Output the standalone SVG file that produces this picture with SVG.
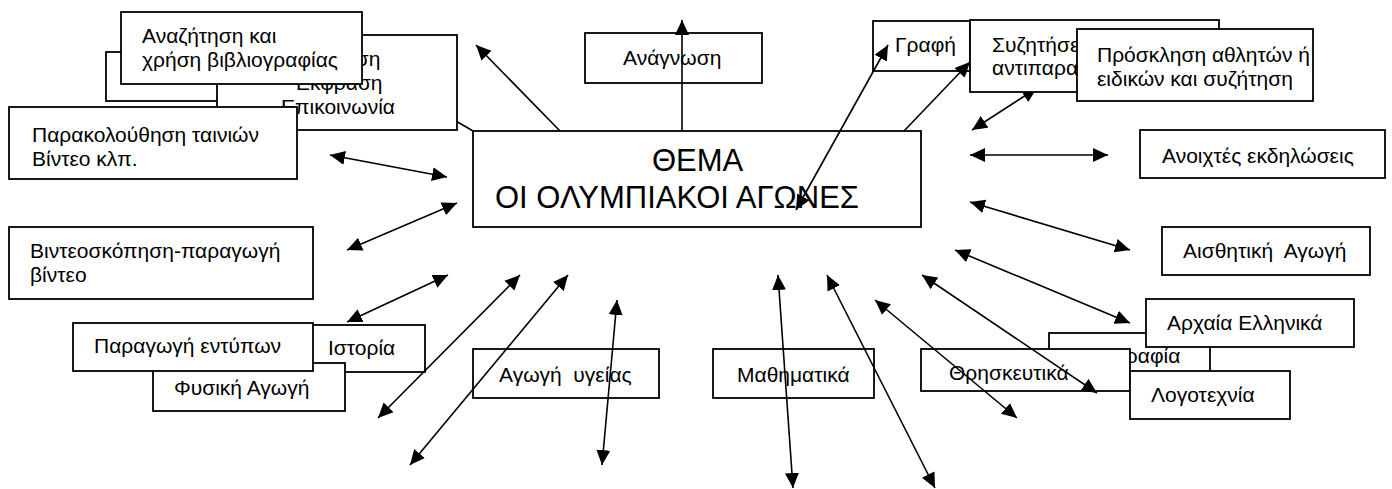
<svg xmlns="http://www.w3.org/2000/svg" width="1392" height="489" viewBox="0 0 1392 489">
<style>
.b{fill:#fff;stroke:#000;stroke-width:1.8}
.t{font-family:"Liberation Sans",Arial,sans-serif;font-size:21px;fill:#000}
.big{font-family:"Liberation Sans",Arial,sans-serif;font-size:31px;fill:#000}
.c{stroke:#000;stroke-width:1.6;fill:none}
.a1{marker-end:url(#ah)}
.a2{marker-start:url(#ah);marker-end:url(#ah)}
</style>
<defs>
<marker id="ah" markerUnits="userSpaceOnUse" markerWidth="16" markerHeight="15" refX="15" refY="7" orient="auto-start-reverse" viewBox="0 0 16 14">
<path d="M0,0 L15,7 L0,14 z" fill="#000"/>
</marker>
</defs>
<rect x="0" y="0" width="1392" height="489" fill="#fff"/>
<g id="connectors-back">
<line class="c" x1="473" y1="131" x2="420" y2="100"/>
<line class="c a2" x1="972" y1="130" x2="1037" y2="88"/>
</g>
<g id="n-back"><rect class="b" x="106" y="52" width="124" height="49"/></g>
<g id="n-ekfrasi"><rect class="b" x="217" y="35" width="240" height="95"/>
<text class="t" x="338" y="66" text-anchor="middle">Ακρόαση</text>
<text class="t" x="338" y="90" text-anchor="middle">Έκφραση</text>
<text class="t" x="338" y="114" text-anchor="middle">Επικοινωνία</text></g>
<g id="n-anazitisi"><rect class="b" x="121" y="12" width="241" height="72"/>
<text class="t" x="142" y="43">Αναζήτηση και</text>
<text class="t" x="142" y="67">χρήση βιβλιογραφίας</text></g>
<g id="n-parakolouthisi"><rect class="b" x="9" y="107" width="288" height="72"/>
<text class="t" x="32" y="142">Παρακολούθηση ταινιών</text>
<text class="t" x="32" y="166">Βίντεο κλπ.</text></g>
<g id="n-anagnosi"><rect class="b" x="585" y="33" width="177" height="50"/>
<text class="t" x="623" y="65">Ανάγνωση</text></g>
<g id="n-thema"><rect class="b" x="473" y="131" width="448" height="96"/>
<text class="big" x="652" y="171">ΘΕΜΑ</text>
<text class="big" x="495" y="208">ΟΙ ΟΛΥΜΠΙΑΚΟΙ ΑΓΩΝΕΣ</text></g>
<g id="n-grafi"><rect class="b" x="873" y="21" width="97" height="50"/>
<text class="t" x="895" y="52">Γραφή</text></g>
<g id="n-syzitiseis"><rect class="b" x="970" y="20" width="249" height="72"/>
<text class="t" x="992" y="52">Συζητήσεις</text>
<text class="t" x="992" y="75">αντιπαραθέσεις</text></g>
<g id="n-prosklisi"><rect class="b" x="1077" y="29" width="236" height="72"/>
<text class="t" x="1097" y="62">Πρόσκληση αθλητών ή</text>
<text class="t" x="1097" y="86">ειδικών και συζήτηση</text></g>
<g id="n-anoixtes"><rect class="b" x="1140" y="130" width="245" height="48"/>
<text class="t" x="1162" y="163">Ανοιχτές εκδηλώσεις</text></g>
<g id="n-aisthitiki"><rect class="b" x="1162" y="227" width="208" height="48"/>
<text class="t" x="1183" y="258" xml:space="preserve">Αισθητική  Αγωγή</text></g>
<g id="n-geografia"><rect class="b" x="1049" y="333" width="161" height="48"/>
<text class="t" x="1078" y="363">Γεωγραφία</text></g>
<g id="n-archaia"><rect class="b" x="1146" y="299" width="208" height="48"/>
<text class="t" x="1167" y="330">Αρχαία Ελληνικά</text></g>
<g id="n-thriskeftika"><rect class="b" x="921" y="349" width="209" height="42"/>
<text class="t" x="949" y="380">Θρησκευτικά</text></g>
<g id="n-logotexnia"><rect class="b" x="1130" y="371" width="160" height="48"/>
<text class="t" x="1151" y="402">Λογοτεχνία</text></g>
<g id="n-mathimatika"><rect class="b" x="713" y="349" width="161" height="49"/>
<text class="t" x="737" y="382">Μαθηματικά</text></g>
<g id="n-agogi-ygeias"><rect class="b" x="473" y="349" width="186" height="49"/>
<text class="t" x="499" y="382" xml:space="preserve">Αγωγή  υγείας</text></g>
<g id="n-vinteoskopisi"><rect class="b" x="9" y="227" width="304" height="72"/>
<text class="t" x="30" y="258">Βιντεοσκόπηση-παραγωγή</text>
<text class="t" x="30" y="282">βίντεο</text></g>
<g id="n-istoria"><rect class="b" x="290" y="325" width="135" height="47"/>
<text class="t" x="328" y="355">Ιστορία</text></g>
<g id="n-fysiki"><rect class="b" x="153" y="363" width="192" height="48"/>
<text class="t" x="174" y="395">Φυσική Αγωγή</text></g>
<g id="n-paragogi"><rect class="b" x="73" y="323" width="240" height="48"/>
<text class="t" x="94" y="353">Παραγωγή εντύπων</text></g>
<g id="connectors">
<line class="c a1" x1="560" y1="131" x2="476" y2="45"/>
<line class="c a1" x1="682" y1="131" x2="682" y2="20"/>
<line class="c a2" x1="796" y1="210" x2="888" y2="45"/>
<line class="c a1" x1="904" y1="131" x2="970" y2="62"/>
<line class="c a2" x1="970" y1="155" x2="1108" y2="155"/>
<line class="c a2" x1="970" y1="202" x2="1130" y2="250"/>
<line class="c a2" x1="955" y1="250" x2="1130" y2="323"/>
<line class="c a2" x1="922" y1="275" x2="1097" y2="393"/>
<line class="c a2" x1="875" y1="300" x2="1017" y2="418"/>
<line class="c a2" x1="827" y1="275" x2="935" y2="488"/>
<line class="c a2" x1="778" y1="275" x2="793" y2="488"/>
<line class="c a2" x1="617" y1="300" x2="602" y2="465"/>
<line class="c a2" x1="568" y1="275" x2="410" y2="465"/>
<line class="c a2" x1="520" y1="275" x2="378" y2="418"/>
<line class="c a2" x1="448" y1="275" x2="347" y2="322"/>
<line class="c a2" x1="457" y1="203" x2="347" y2="250"/>
<line class="c a2" x1="447" y1="177" x2="330" y2="155"/>
</g>
</svg>
